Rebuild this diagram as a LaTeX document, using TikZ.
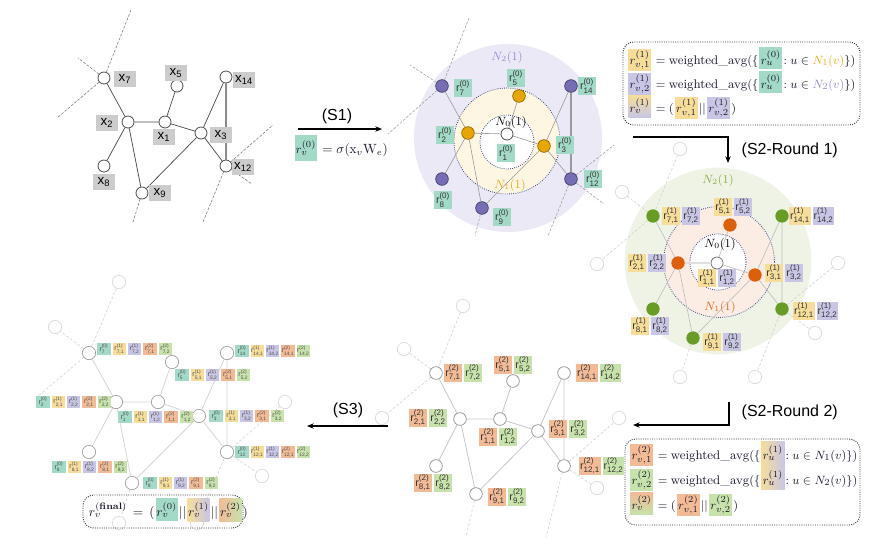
\documentclass[tikz,border=0pt]{standalone}
\usepackage{amsmath}
\usepackage{fontspec}
\setsansfont{Liberation Sans}
\usetikzlibrary{arrows.meta}
\pgfdeclarelayer{back}
\pgfsetlayers{back,main}
\definecolor{cteal}{RGB}{163,217,199}
\definecolor{cyel}{RGB}{246,222,154}
\definecolor{cpur}{RGB}{200,198,228}
\definecolor{cora}{RGB}{243,186,150}
\definecolor{cgre}{RGB}{199,226,170}
\definecolor{cxgray}{RGB}{204,204,204}
\definecolor{nyel}{RGB}{230,168,0}
\definecolor{npur}{RGB}{118,110,180}
\definecolor{nora}{RGB}{222,95,10}
\definecolor{ngre}{RGB}{104,156,38}
\definecolor{lav}{RGB}{234,233,245}
\definecolor{cream}{RGB}{253,246,226}
\definecolor{lgreen}{RGB}{238,243,229}
\definecolor{peach}{RGB}{251,236,228}
\definecolor{dotblue}{RGB}{60,75,140}
\definecolor{tNoney}{RGB}{232,170,20}
\definecolor{tNtwop}{RGB}{150,140,210}
\definecolor{tNtwog}{RGB}{140,175,60}
\definecolor{tNoneo}{RGB}{225,100,20}
\definecolor{ftext}{RGB}{25,25,45}
\newcommand{\xlab}[1]{x$_{\textsf{#1}}$}
\newcommand{\rlab}[2]{r$^{\textsf{(#1)}}_{\textsf{#2}}$}
\newcommand{\pairlbl}[6]{%
 \node[ml,fill=#4] (#1a) at (#2) {\rlab{#6}{#3,1}};
 \node[ml,fill=#5,anchor=west,xshift=1.2pt] (#1b) at (#1a.east) {\rlab{#6}{#3,2}};}
\newcommand{\fiverow}[3]{%
 \node[sl,fill=cteal] (#1a) at (#2) {\rlab{0}{#3}};
 \node[sl,fill=cyel,anchor=west,xshift=1.1pt] (#1b) at (#1a.east) {\rlab{1}{#3,1}};
 \node[sl,fill=cpur,anchor=west,xshift=1.1pt] (#1c) at (#1b.east) {\rlab{1}{#3,2}};
 \node[sl,fill=cora,anchor=west,xshift=1.1pt] (#1d) at (#1c.east) {\rlab{2}{#3,1}};
 \node[sl,fill=cgre,anchor=west,xshift=1.1pt] (#1e) at (#1d.east) {\rlab{2}{#3,2}};}
\begin{document}
\begin{tikzpicture}[x=0.75pt,y=-0.75pt,
 wn/.style={circle,draw=black!70,fill=white,line width=0.6pt,minimum size=9pt,inner sep=0pt},
 yn/.style={circle,draw=nyel!60!black,fill=nyel,line width=0.5pt,minimum size=9.5pt,inner sep=0pt},
 pn/.style={circle,draw=npur!55!black,fill=npur,line width=0.5pt,minimum size=9.5pt,inner sep=0pt},
 onode/.style={circle,fill=nora,minimum size=10pt,inner sep=0pt},
 gn/.style={circle,fill=ngre,minimum size=10pt,inner sep=0pt},
 dn/.style={circle,draw=black!45,fill=white,line width=0.5pt,minimum size=9.5pt,inner sep=0pt},
 en/.style={circle,draw=black!38,fill=white,line width=0.5pt,minimum size=10pt,inner sep=0pt},
 fn/.style={circle,draw=black!15,fill=white,line width=0.5pt,minimum size=10pt,inner sep=0pt},
 xlb/.style={fill=cxgray,font=\sffamily\fontsize{10}{11}\selectfont,inner sep=1.2pt,minimum height=12.5pt,minimum width=16pt},
 ml/.style={font=\sffamily\fontsize{8}{9}\selectfont,text=black!80,inner sep=0.6pt,minimum width=13.5pt,minimum height=13pt},
 sl/.style={font=\sffamily\fontsize{5.2}{6}\selectfont,text=black!70,inner sep=0.3pt,minimum width=10pt,minimum height=8.5pt},
 ft/.style={inner ysep=0pt,inner xsep=0.5pt,anchor=base west,font=\fontsize{9.4}{12}\selectfont,text=ftext},
 fb/.style={inner sep=1pt,anchor=base west,font=\fontsize{9.4}{12}\selectfont,text=ftext,minimum width=17pt,minimum height=16.5pt},
 fbox/.style={draw=black!80,densely dotted,line width=0.7pt,rounded corners=8pt},
 ring/.style={draw=dotblue,densely dotted,line width=0.6pt},
 eA/.style={draw=black!70,line width=0.55pt},
 eB/.style={draw=black!40,line width=0.45pt},
 eC/.style={draw=black!25,line width=0.5pt},
 eD/.style={draw=black!22,line width=0.6pt},
 eE/.style={draw=black!16,line width=0.6pt},
 dA/.style={draw=black!55,dash pattern=on 2pt off 1.2pt,line width=0.4pt},
 dB/.style={draw=black!40,dash pattern=on 2pt off 1.2pt,line width=0.4pt},
 dF/.style={draw=black!18,dash pattern=on 2pt off 1.5pt,line width=0.45pt},
 arr/.style={-{Stealth[length=5pt,width=4pt]},line width=0.8pt,draw=black},
 stl/.style={font=\sffamily\fontsize{12}{14}\selectfont},
 Nl/.style={font=\fontsize{9}{10}\selectfont,inner sep=0pt},
 ff/.style={font=\fontsize{10}{12}\selectfont}]
\begin{pgfonlayer}{back}
\fill[white] (0,0) rectangle (888,537);
\end{pgfonlayer}
\useasboundingbox (0,0) rectangle (888,537);

% ===== Panel A =====
\node[wn] (a7) at (104,78) {};
\node[wn] (a5) at (177,86) {};
\node[wn] (a14) at (226,77) {};
\node[wn] (a2) at (128,122) {};
\node[wn] (a1) at (165,122) {};
\node[wn] (a3) at (201,133) {};
\node[wn] (a12) at (226,166) {};
\node[wn] (a8) at (104,166) {};
\node[wn] (a9) at (142,193) {};
\draw[eA] (a7)--(a2) (a2)--(a1) (a1)--(a5) (a1)--(a3) (a2)--(a8) (a2)--(a9) (a9)--(a3) (a3)--(a14) (a3)--(a12);
\draw[draw=black!45,line width=1.1pt] (a14)--(a12);
\coordinate (a7o1) at (131,10);
\coordinate (a7o2) at (78,58);
\coordinate (a7o3) at (57,118);
\coordinate (a12o1) at (273,125);
\coordinate (a12o2) at (252,184);
\coordinate (a12o3) at (203,222);
\coordinate (a9o1) at (133,222);
\draw[dA] (a7)--(a7o1) (a7)--(a7o2) (a7)--(a7o3) (a12)--(a12o1) (a12)--(a12o2) (a12)--(a12o3) (a9)--(a9o1);
\node[xlb] (la7) at (125,79) {\xlab{7}};
\node[xlb] (la5) at (176,73) {\xlab{5}};
\node[xlb] (la14) at (244,80) {\xlab{14}};
\node[xlb] (la2) at (107,123) {\xlab{2}};
\node[xlb] (la1) at (164,137) {\xlab{1}};
\node[xlb] (la3) at (221,135) {\xlab{3}};
\node[xlb] (la12) at (243,167) {\xlab{12}};
\node[xlb] (la8) at (104,182) {\xlab{8}};
\node[xlb] (la9) at (160,193) {\xlab{9}};

% ===== S1 =====
\coordinate (s1s) at (298,129);
\coordinate (s1e) at (382,129);
\draw[arr] (s1s)--(s1e);
\node[stl] (s1t) at (337,116) {(S1)};
\node[fb,fill=cteal,anchor=center,minimum width=16pt,minimum height=19pt] (s1b) at (306,148) {$r_v^{(0)}$};
\node[ft,font=\fontsize{10}{12}\selectfont] (s1f) at (s1b.base east) {${}=\sigma(\mathrm{x}_v\mathrm{W}_e)$};

% ===== Panel B =====
\fill[lav] (508,138) circle[radius=70.5pt];
\draw[ring,fill=cream] (507,141) circle[radius=39.75pt];
\draw[ring,fill=white] (507,142) circle[radius=20.25pt];
\node[Nl,text=tNtwop] (bN2) at (507,57) {$N_2(1)$};
\node[Nl,text=tNoney] (bN1) at (510,185) {$N_1(1)$};
\node[wn] (b1) at (507,134) {};
\node[yn] (b2) at (468,133) {};
\node[yn] (b5) at (519,96) {};
\node[yn] (b3) at (544,146) {};
\node[pn] (b7) at (442,86) {};
\node[pn] (b14) at (571,86) {};
\node[pn] (b8) at (442,179) {};
\node[pn] (b9) at (482,208) {};
\node[pn] (b12) at (571,179) {};
\draw[eB] (b7)--(b2) (b2)--(b1) (b1)--(b5) (b1)--(b3) (b2)--(b8) (b2)--(b9) (b9)--(b3) (b3)--(b14) (b3)--(b12);
\draw[draw=black!40,line width=0.9pt] (b14)--(b12);
\coordinate (b7o1) at (469,18);
\coordinate (b7o2) at (410,65);
\coordinate (b7o3) at (388,134);
\coordinate (b12o1) at (614,145);
\coordinate (b12o2) at (604,204);
\coordinate (b12o3) at (548,236);
\coordinate (b9o1) at (475,236);
\draw[dB] (b7)--(b7o1) (b7)--(b7o2) (b7)--(b7o3) (b12)--(b12o1) (b12)--(b12o2) (b12)--(b12o3) (b9)--(b9o1);
\node[Nl] (bN0) at (511,122) {$N_0(1)$};
\node[ml,fill=cteal] (lb1) at (506,153) {\rlab{0}{1}};
\node[ml,fill=cteal] (lb2) at (445,135) {\rlab{0}{2}};
\node[ml,fill=cteal] (lb5) at (516,78) {\rlab{0}{5}};
\node[ml,fill=cteal] (lb3) at (565,145) {\rlab{0}{3}};
\node[ml,fill=cteal] (lb7) at (463,88) {\rlab{0}{7}};
\node[ml,fill=cteal] (lb14) at (587,86) {\rlab{0}{14}};
\node[ml,fill=cteal] (lb8) at (443,200) {\rlab{0}{8}};
\node[ml,fill=cteal] (lb9) at (502,217) {\rlab{0}{9}};
\node[ml,fill=cteal] (lb12) at (593,179) {\rlab{0}{12}};

% ===== Top formula box =====
\draw[fbox] (623,42) rectangle (860,125);
\node[fb,fill=cyel] (t1a) at (628,64) {$r^{(1)}_{v,1}$};
\node[ft] (t1b) at (t1a.base east) {${}={}$weighted\_avg$(\{$};
\node[fb,fill=cteal] (t1c) at (t1b.base east) {$r^{(0)}_u$};
\node[ft] (t1d) at (t1c.base east) {$:u\in\textcolor{tNoney}{N_1(v)}\})$};
\node[fb,fill=cpur] (t2a) at (628,88) {$r^{(1)}_{v,2}$};
\node[ft] (t2b) at (t2a.base east) {${}={}$weighted\_avg$(\{$};
\node[fb,fill=cteal] (t2c) at (t2b.base east) {$r^{(0)}_u$};
\node[ft] (t2d) at (t2c.base east) {$:u\in\textcolor{tNtwop}{N_2(v)}\})$};
\node[fb,top color=cyel,bottom color=cpur] (t3a) at (628,112) {$r^{(1)}_{v}$};
\node[ft] (t3b) at (t3a.base east) {${}=($};
\node[fb,fill=cyel] (t3c) at (t3b.base east) {$r^{(1)}_{v,1}$};
\node[ft] (t3d) at (t3c.base east) {$||$};
\node[fb,fill=cpur] (t3e) at (t3d.base east) {$r^{(1)}_{v,2}$};
\node[ft] (t3f) at (t3e.base east) {$)$};

% ===== S2 Round 1 =====
\coordinate (r1a) at (633,137);
\coordinate (r1b) at (728,137);
\coordinate (r1c) at (728,163);
\draw[arr] (r1a)--(r1b)--(r1c);
\node[stl,anchor=west] (r1t) at (737,150) {(S2-Round 1)};

% ===== Panel C =====
\fill[lgreen] (718,261) circle[radius=70pt];
\draw[ring,fill=peach] (719,262) circle[radius=41.6pt];
\draw[ring,fill=white] (718,262) circle[radius=21pt];
\node[Nl,text=tNtwog] (cN2) at (718,180) {$N_2(1)$};
\node[Nl,text=tNoneo] (cN1) at (720,307) {$N_1(1)$};
\node[fn] (c7o1) at (680,149) {};
\node[fn] (c7o2) at (622,192) {};
\node[fn] (c7o3) at (597,264) {};
\node[fn] (c12o1) at (838,263) {};
\node[fn] (c12o2) at (815,333) {};
\node[fn] (c12o3) at (755,377) {};
\node[fn] (c9o1) at (680,377) {};
\node[wn,draw=black!55] (c1) at (717,263) {};
\node[onode] (c2) at (678,263) {};
\node[onode] (c5) at (730,225) {};
\node[onode] (c3) at (755,275) {};
\node[gn] (c7) at (653,216) {};
\node[gn] (c14) at (782,216) {};
\node[gn] (c8) at (653,309) {};
\node[gn] (c9) at (693,338) {};
\node[gn] (c12) at (782,309) {};
\draw[dF] (c7)--(c7o1) (c7)--(c7o2) (c7)--(c7o3) (c12)--(c12o1) (c12)--(c12o2) (c12)--(c12o3) (c9)--(c9o1);
\draw[eC] (c7)--(c2) (c1)--(c5) (c1)--(c3) (c2)--(c8) (c2)--(c9) (c9)--(c3) (c3)--(c14) (c3)--(c12) (c14)--(c12);
\draw[draw=black!12,line width=1.5pt] (c2)--(c1);
\node[Nl] (cN0) at (720,244) {$N_0(1)$};
\pairlbl{lc1}{707,278}{1}{cyel}{cpur}{1}
\pairlbl{lc2}{637,263}{2}{cyel}{cpur}{1}
\pairlbl{lc5}{723,207}{5}{cyel}{cpur}{1}
\pairlbl{lc3}{774,273}{3}{cyel}{cpur}{1}
\pairlbl{lc7}{671,216}{7}{cyel}{cpur}{1}
\pairlbl{lc14}{800,216}{14}{cyel}{cpur}{1}
\pairlbl{lc8}{640,326}{8}{cyel}{cpur}{1}
\pairlbl{lc9}{712,342}{9}{cyel}{cpur}{1}
\pairlbl{lc12}{804,311}{12}{cyel}{cpur}{1}

% ===== S2 Round 2 =====
\coordinate (r2a) at (729,402);
\coordinate (r2b) at (729,425);
\coordinate (r2c) at (633,425);
\draw[arr] (r2a)--(r2b)--(r2c);
\node[stl,anchor=west] (r2t) at (737,412) {(S2-Round 2)};

% ===== Bottom formula box =====
\draw[fbox] (625,439) rectangle (860,525);
\node[fb,fill=cora] (b1a) at (630,459) {$r^{(2)}_{v,1}$};
\node[ft] (b1b) at (b1a.base east) {${}={}$weighted\_avg$(\{$};
\node[fb] (b1c) at (b1b.base east) {$r^{(1)}_u$};
\node[ft] (b1d) at (b1c.base east) {$:u\in N_1(v)\})$};
\node[fb,fill=cgre] (b2a) at (630,484) {$r^{(2)}_{v,2}$};
\node[ft] (b2b) at (b2a.base east) {${}={}$weighted\_avg$(\{$};
\node[fb] (b2c) at (b2b.base east) {$r^{(1)}_u$};
\node[ft] (b2d) at (b2c.base east) {$:u\in N_2(v)\})$};
\begin{pgfonlayer}{back}
\shade[left color=cyel,right color=cpur] (b1c.north west) rectangle (b2c.south east);
\end{pgfonlayer}
\node[fb,top color=cora,bottom color=cgre] (b3a) at (630,509) {$r^{(2)}_{v}$};
\node[ft] (b3b) at (b3a.base east) {${}=($};
\node[fb,fill=cora] (b3c) at (b3b.base east) {$r^{(2)}_{v,1}$};
\node[ft] (b3d) at (b3c.base east) {$||$};
\node[fb,fill=cgre] (b3e) at (b3d.base east) {$r^{(2)}_{v,2}$};
\node[ft] (b3f) at (b3e.base east) {$)$};

% ===== Panel D =====
\node[fn] (d7o1) at (463,306) {};
\node[fn] (d7o2) at (404,349) {};
\node[fn] (d7o3) at (382,418) {};
\node[fn] (d12o1) at (619,418) {};
\node[fn] (d12o2) at (597,488) {};
\coordinate (d12o3) at (546,537);
\coordinate (d9o1) at (466,537);
\node[dn] (d7) at (436,373) {};
\node[dn] (d5) at (513,381) {};
\node[dn] (d14) at (564,373) {};
\node[dn] (d2) at (460,419) {};
\node[dn] (d1) at (500,419) {};
\node[dn] (d3) at (538,431) {};
\node[dn] (d12) at (564,466) {};
\node[dn] (d8) at (436,466) {};
\node[dn] (d9) at (476,494) {};
\draw[dF] (d7)--(d7o1) (d7)--(d7o2) (d7)--(d7o3) (d12)--(d12o1) (d12)--(d12o2) (d12)--(d12o3) (d9)--(d9o1);
\draw[eD] (d7)--(d2) (d2)--(d1) (d1)--(d5) (d1)--(d3) (d2)--(d8) (d2)--(d9) (d9)--(d3) (d3)--(d14) (d3)--(d12) (d14)--(d12);
\pairlbl{ld7}{453,373}{7}{cora}{cgre}{2}
\pairlbl{ld5}{503,365}{5}{cora}{cgre}{2}
\pairlbl{ld14}{587,373}{14}{cora}{cgre}{2}
\pairlbl{ld2}{418,418}{2}{cora}{cgre}{2}
\pairlbl{ld1}{488,437}{1}{cora}{cgre}{2}
\pairlbl{ld3}{558,429}{3}{cora}{cgre}{2}
\pairlbl{ld12}{590,466}{12}{cora}{cgre}{2}
\pairlbl{ld8}{423,483}{8}{cora}{cgre}{2}
\pairlbl{ld9}{497,497}{9}{cora}{cgre}{2}

% ===== S3 =====
\coordinate (s3a) at (388,426);
\coordinate (s3b) at (307,426);
\draw[arr] (s3a)--(s3b);
\node[stl] (s3t) at (348,410) {(S3)};

% ===== Panel E =====
\node[fn] (e7o1) at (119,282) {};
\node[fn] (e7o2) at (55,327) {};
\coordinate (e7o3) at (37,397);
\node[fn] (e12o1) at (285,402) {};
\node[fn] (e12o2) at (262,476) {};
\node[fn] (e12o3) at (197,523) {};
\node[fn] (e9o1) at (119,523) {};
\node[en] (e7) at (89,353) {};
\node[en] (e5) at (172,362) {};
\node[en] (e14) at (227,353) {};
\node[en] (e2) at (116,402) {};
\node[en] (e1) at (158,402) {};
\node[en] (e3) at (199,416) {};
\node[en] (e12) at (227,452) {};
\node[en] (e8) at (89,452) {};
\node[en] (e9) at (132,483) {};
\draw[dF] (e7)--(e7o1) (e7)--(e7o2) (e7)--(e7o3) (e12)--(e12o1) (e12)--(e12o2) (e12)--(e12o3) (e9)--(e9o1);
\draw[eE] (e7)--(e2) (e2)--(e1) (e1)--(e5) (e1)--(e3) (e2)--(e8) (e2)--(e9) (e9)--(e3) (e3)--(e14) (e3)--(e12) (e14)--(e12);
\fiverow{le7}{104,349}{7}
\fiverow{le5}{182,375}{5}
\fiverow{le14}{242,351}{14}
\fiverow{le2}{43,402}{2}
\fiverow{le1}{125,417}{1}
\fiverow{le3}{216,416}{3}
\fiverow{le12}{242,452}{12}
\fiverow{le8}{59,467}{8}
\fiverow{le9}{150,483}{9}

% ===== Final formula =====
\draw[fbox] (83,495) rectangle (243,528);
\node[ft,ff] (fa) at (88,516) {$r_v^{(\textbf{final})}\,=\,($};
\node[fb,ff,fill=cteal,minimum width=14.5pt,minimum height=17pt,inner sep=0.5pt] (fb1) at (fa.base east) {$r_v^{(0)}$};
\node[ft,ff] (fc) at (fb1.base east) {$||$};
\node[fb,ff,left color=cyel,right color=cpur,minimum width=14.5pt,minimum height=17pt,inner sep=0.5pt] (fb2) at (fc.base east) {$r_v^{(1)}$};
\node[ft,ff] (fd) at (fb2.base east) {$||$};
\node[fb,ff,left color=cora,right color=cgre,minimum width=14.5pt,minimum height=17pt,inner sep=0.5pt] (fb3) at (fd.base east) {$r_v^{(2)}$};
\node[ft,ff] (fe) at (fb3.base east) {$)$};
\end{tikzpicture}
\end{document}
